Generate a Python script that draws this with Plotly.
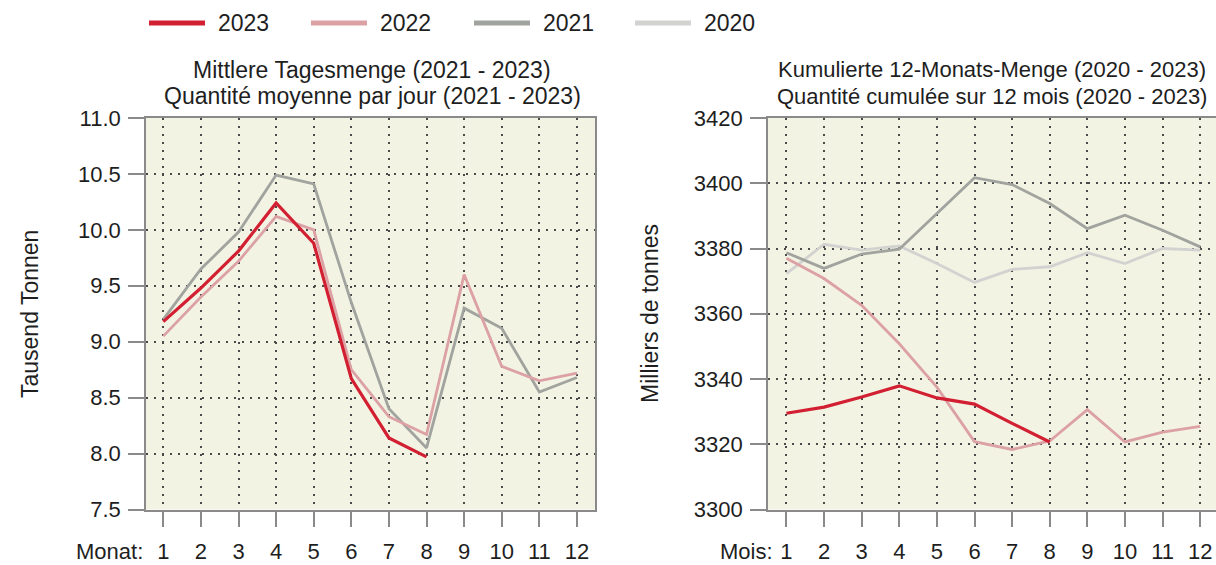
import plotly.graph_objects as go

months = list(range(1, 13))
month_labels = [str(m) for m in months]

# Mittlere Tagesmenge (Tausend Tonnen)
daily_2023 = [9.18, 9.48, 9.81, 10.24, 9.88, 8.67, 8.14, 7.97]
daily_2022 = [9.05, 9.40, 9.72, 10.12, 10.00, 8.75, 8.33, 8.17, 9.60, 8.78, 8.65, 8.72]
daily_2021 = [9.20, 9.65, 9.98, 10.49, 10.41, 9.35, 8.40, 8.05, 9.30, 9.12, 8.55, 8.68]

# Kumulierte 12-Monats-Menge (Milliers de tonnes)
cum_2023 = [3329.5, 3331.4, 3334.5, 3337.9, 3334.2, 3332.3, 3326.4, 3320.7]
cum_2022 = [3377.0, 3370.8, 3362.6, 3350.8, 3337.5, 3320.8, 3318.4, 3321.0, 3330.6, 3320.7, 3323.7, 3325.5]
cum_2021 = [3378.7, 3373.9, 3378.3, 3379.8, 3390.7, 3401.7, 3399.6, 3393.8, 3386.1, 3390.2, 3385.6, 3380.5]
cum_2020 = [3372.3, 3381.3, 3379.5, 3380.8, 3375.4, 3369.6, 3373.6, 3374.4, 3378.7, 3375.4, 3380.0, 3379.5]

years = ["2023", "2022", "2021", "2020"]
colors = {"2023": "#d21f32", "2022": "#dca1a4", "2021": "#a0a39e", "2020": "#d2d3d0"}
widths = {"2023": 3.2, "2022": 2.8, "2021": 2.8, "2020": 2.8}

left_y_ticks = [7.5, 8.0, 8.5, 9.0, 9.5, 10.0, 10.5, 11.0]
right_y_ticks = [3300, 3320, 3340, 3360, 3380, 3400, 3420]

W, H = 1216, 565
FONT = "Liberation Sans, Arial, sans-serif"
FS = 22

fig = go.Figure()

def add(x, y, year, xa, ya):
    fig.add_trace(go.Scatter(x=x, y=y, mode="lines", name=year, showlegend=False,
                             line=dict(color=colors[year], width=widths[year]),
                             xaxis=xa, yaxis=ya))

# draw order: lighter behind
add(months, daily_2021, "2021", "x", "y")
add(months, daily_2022, "2022", "x", "y")
add(months[:len(daily_2023)], daily_2023, "2023", "x", "y")

add(months, cum_2020, "2020", "x2", "y2")
add(months, cum_2021, "2021", "x2", "y2")
add(months, cum_2022, "2022", "x2", "y2")
add(months[:len(cum_2023)], cum_2023, "2023", "x2", "y2")

def px_x(p):
    return p / W

def px_y(p):
    return 1 - p / H

ydom = [px_y(509.5), px_y(118)]
grid = dict(showgrid=True, gridcolor="#4a4a4a", gridwidth=1.5, griddash="2px,6px")
axis_common = dict(showline=True, linecolor="#8a8a8a", linewidth=1.6,
                   ticks="outside", ticklen=16, tickwidth=1.6, tickcolor="#8a8a8a",
                   tickfont=dict(family=FONT, size=FS, color="#1e1e1e"),
                   zeroline=False, automargin=False, fixedrange=True, **grid)

fig.update_layout(
    width=W, height=H,
    margin=dict(l=0, r=0, t=0, b=0),
    paper_bgcolor="white",
    plot_bgcolor="#f3f3e3",
    showlegend=False,
    xaxis=dict(domain=[px_x(146), px_x(595)], range=[0.54, 12.48], tickvals=months,
               ticktext=month_labels, mirror=True, anchor="y", ticklabelstandoff=5, **axis_common),
    yaxis=dict(domain=ydom, range=[7.5, 11.0], tickvals=left_y_ticks, tickformat=".1f",
               mirror=True, anchor="x", ticklabelstandoff=3, **axis_common),
    xaxis2=dict(domain=[px_x(768), 1.0], range=[0.51, 12.42], tickvals=months,
                ticktext=month_labels, mirror=True, anchor="y2", ticklabelstandoff=5, **axis_common),
    yaxis2=dict(domain=ydom, range=[3300, 3420], tickvals=right_y_ticks,
                mirror=False, anchor="x2", ticklabelstandoff=3, **axis_common),
)

ann = []
def text(t, x, y, size=FS, xanchor="center", angle=0):
    ann.append(dict(text=t, x=px_x(x), y=px_y(y), xref="paper", yref="paper", showarrow=False,
                    xanchor=xanchor, yanchor="middle", textangle=angle,
                    font=dict(family=FONT, size=size, color="#1e1e1e")))

# titles
text("Mittlere Tagesmenge (2021 - 2023)", 372, 70, size=23)
text("Quantité moyenne par jour (2021 - 2023)", 372, 96, size=23)
text("Kumulierte 12-Monats-Menge (2020 - 2023)", 992, 70, size=22)
text("Quantité cumulée sur 12 mois (2020 - 2023)", 992, 96, size=22)
# y titles
text("Tausend Tonnen", 30, 314, size=23, angle=-90)
text("Milliers de tonnes", 650, 314, size=23, angle=-90)
# x prefixes
text("Monat:", 145, 551, xanchor="right")
text("Mois:", 775, 551, xanchor="right")

# manual legend
shapes = []
legend_x = [149, 311, 474, 635]
for yr, lx in zip(years, legend_x):
    shapes.append(dict(type="line", xref="paper", yref="paper",
                       x0=px_x(lx), x1=px_x(lx + 56), y0=px_y(23), y1=px_y(23),
                       line=dict(color=colors[yr], width=5)))
    text(yr, lx + 67, 23, size=23, xanchor="left")

fig.update_layout(annotations=ann, shapes=shapes)

fig.write_html("out.html", config={"displayModeBar": False},
               post_script="document.body.style.margin='0';document.body.style.overflow='hidden';")
